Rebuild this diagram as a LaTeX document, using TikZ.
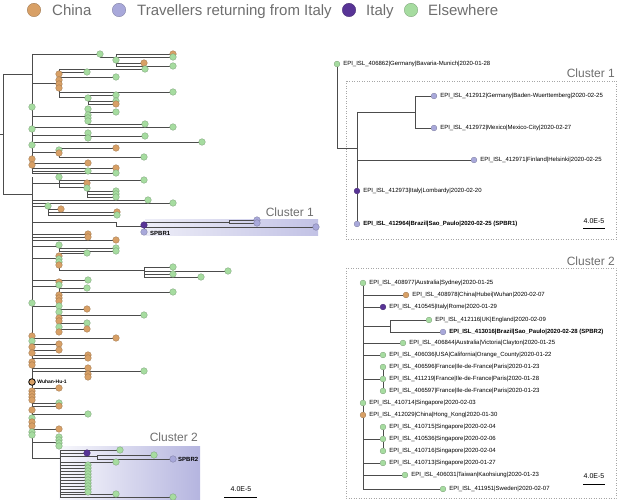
\documentclass[tikz,border=0pt]{standalone}
\usepackage{fontspec}
\setmainfont{Liberation Sans}
\definecolor{china}{RGB}{216,160,102}
\definecolor{trav}{RGB}{168,168,218}
\definecolor{italy}{RGB}{88,52,150}
\definecolor{elsew}{RGB}{166,220,160}
\definecolor{greytext}{RGB}{110,110,110}
\tikzset{
  branch/.style={draw=black!70, line width=0.7pt},
  dot/.style={circle, inner sep=0pt, minimum size=6.6pt, line width=0.3pt},
  tip/.style={dot, fill=#1, draw=#1!70!black},
  small/.style={minimum size=5.8pt},
  lab/.style={font=\fontsize{6}{7}\selectfont, inner sep=1pt, anchor=west, xshift=2pt},
  clusterlab/.style={font=\fontsize{12}{14}\selectfont, text=greytext, inner sep=0pt, anchor=base east},
  legendlab/.style={font=\fontsize{15}{18}\selectfont, text=greytext, inner sep=0pt, anchor=base west},
  scalelab/.style={font=\fontsize{7}{8}\selectfont, inner sep=0pt},
  panel/.style={draw=black!35, dotted, line width=0.5pt},
}
% left tree: tips x0/y/x1/colour
\def\tiplist{32/54/100/elsew, 116/54/173/china, 116/57/173/elsew, 116/60/116/elsew, 116/63/144/china, 116/66/173/elsew,
59/69/145/elsew, 59/72/87/elsew, 59/74/59/china, 59/77/116/elsew, 59/80/59/china, 59/84/59/china, 59/88/59/china, 59/92/173/elsew,
88/95/116/elsew, 88/98/88/elsew, 88/101/116/elsew, 88/104/116/china, 32/107/32/elsew,
88/109/88/elsew, 88/112/116/elsew, 88/115/88/elsew, 88/118/88/elsew, 88/121/88/elsew, 88/124/145/elsew,
32/127/173/elsew, 32/129/32/elsew, 88/133/88/elsew, 88/136/145/elsew, 88/138/88/elsew,
32/142/202/elsew, 32/145/32/elsew, 59/148/116/china, 59/150/59/elsew, 59/153/59/china, 59/157/144/elsew,
32/159/32/china, 32/163/88/china, 32/165/32/china, 32/168/116/china, 32/171/88/elsew, 32/173/116/elsew,
59/177/59/elsew, 59/180/144/elsew, 59/183/87/china, 87/188/87/elsew, 87/191/116/elsew, 87/194/116/elsew, 87/197/116/elsew,
32/200/148/elsew, 32/203/173/elsew, 32/206/48/elsew, 48/209/61/china, 48/212/117/china, 48/215/117/elsew,
229/220/257/trav, 229/223/257/trav, 144/227/316/trav, 144/225/144/italy, 144/232/144/trav,
32/234/88/china, 32/237/88/china, 32/240/116/china, 59/245/59/elsew, 59/248/116/elsew, 59/251/116/elsew,
59/253/87/elsew, 59/256/59/china, 59/259/59/elsew, 59/262/59/elsew, 59/265/59/china,
144/267/173/elsew, 144/271/228/elsew, 144/274/173/elsew, 144/277/201/elsew, 32/280/88/elsew,
59/282/59/china, 59/285/59/elsew, 59/288/87/elsew, 59/292/173/elsew, 59/295/59/china, 59/298/59/china, 59/301/59/china,
32/303/32/elsew, 32/306/59/elsew, 59/309/87/china, 59/312/59/elsew, 59/315/144/elsew, 59/318/59/china, 59/321/59/china,
59/323/87/elsew, 59/327/59/elsew, 59/329/87/china, 59/332/59/china,
32/336/32/china, 32/338/116/china, 32/341/32/elsew, 32/344/59/china, 32/347/32/china, 32/350/59/china, 32/353/32/china,
32/355/88/china, 32/358/88/china, 32/362/32/china, 32/365/32/china, 32/368/88/china, 88/371/144/elsew, 88/374/88/china, 88/377/88/china,
32/388/59/china, 32/391/32/china, 32/394/32/china, 32/397/32/china, 32/400/32/china, 32/403/59/elsew, 32/406/59/china,
32/410/32/china, 32/414/88/elsew, 32/418/32/elsew, 32/422/32/china, 32/426/32/china, 32/429/59/china, 32/432/32/elsew, 32/435/32/elsew,
59/437/59/elsew, 59/440/59/elsew, 59/443/59/elsew, 59/446/59/elsew,
60/450/120/elsew, 60/453/87/italy, 97/455/154/elsew, 97/459/173/trav, 60/462/116/elsew,
60/465/88/elsew, 60/468/88/elsew, 60/471/88/elsew, 60/474/88/elsew, 60/477/88/elsew, 60/480/88/elsew,
60/483/88/elsew, 60/486/88/elsew, 60/489/88/elsew, 60/492/88/elsew, 60/494/116/elsew, 60/497/173/elsew}
\begin{document}
\begin{tikzpicture}[x=1pt, y=-1pt]
  \useasboundingbox (0,0) rectangle (618,500);

  % legend
  \node[tip=china, minimum size=13.5pt] (kchina) at (34,10) {};
  \node[legendlab] at (52,15.5) {China};
  \node[tip=trav, minimum size=13.5pt] (ktrav) at (119,10) {};
  \node[legendlab] at (137,15.5) {Travellers returning from Italy};
  \node[tip=italy, minimum size=13.5pt] (kitaly) at (349,10) {};
  \node[legendlab] at (366,15.5) {Italy};
  \node[tip=elsew, minimum size=13.5pt] (kelse) at (411,10) {};
  \node[legendlab] at (428,15.5) {Elsewhere};

  % highlighted clusters
  \shade[left color=trav!20, right color=trav!70] (145,219) rectangle (318,235);
  \shade[left color=trav!8, right color=trav!85] (59,446) rectangle (200,500);
  \node[clusterlab] (clone) at (314,216) {Cluster 1};
  \node[clusterlab] (cltwo) at (198,441) {Cluster 2};

  % full tree
  \foreach \xa/\ya/\xb in {0/134/3, 3/74/32, 3/194/32, 100/57/116, 32/83/59, 59/97/88, 32/116/88, 32/135/88, 32/152/59,
      32/183/59, 59/187/87, 32/222/116, 116/226/144, 144/222/229, 32/246/59, 32/258/59, 59/270/144, 32/286/59,
      32/371/88, 32/442/59, 32/458/60, 60/456/97}
    \draw[branch] (\xa,\ya) -- (\xb,\ya);
  \foreach \xa/\ya/\yb in {3/74/194, 32/54/173, 32/177/458, 100/54/57, 116/54/66, 59/69/97, 88/95/104, 88/109/124,
      88/133/138, 59/148/157, 59/177/187, 87/187/197, 48/206/215, 116/222/226, 144/222/232, 229/220/223, 59/244/251,
      59/253/270, 144/267/277, 59/282/301, 59/306/332, 88/368/377, 59/437/446, 60/450/497, 97/455/459}
    \draw[branch] (\xa,\ya) -- (\xa,\yb);
  \foreach \xa/\ya/\xb/\cl in \tiplist
    \draw[branch] (\xa,\ya) -- (\xb,\ya);
  \foreach \xa/\ya/\xb/\cl in \tiplist
    \node[tip=\cl] at (\xb,\ya) {};

  \node[tip=china, draw=black, line width=0.8pt] (wuhan) at (32,382) {};
  \node[font=\bfseries\fontsize{5}{6}\selectfont, anchor=west, inner sep=0.5pt, xshift=1pt] at (wuhan.east) {Wuhan-Hu-1};
  \node[font=\bfseries\fontsize{6}{7}\selectfont, anchor=west, inner sep=0pt] (spbrone) at (150,233) {SPBR1};
  \node[font=\bfseries\fontsize{6}{7}\selectfont, anchor=west, inner sep=0pt] (spbrtwo) at (178,459) {SPBR2};

  \node[scalelab] (scl) at (241,489) {4.0E-5};
  \draw[line width=0.9pt] (224,497) -- (257,497);

  % cluster 1
  \draw[panel] (346,81) rectangle (616,239);
  \node[clusterlab] at (615,78) {Cluster 1};
  \node[tip=elsew, small] (ga) at (337,64) {};
  \node[lab] at (ga.east) {EPI\_ISL\_406862|Germany|Bavaria-Munich|2020-01-28};
  \node[tip=trav, small] (gb) at (434,96) {};
  \node[lab] at (gb.east) {EPI\_ISL\_412912|Germany|Baden-Wuerttemberg|2020-02-25};
  \node[tip=trav, small] (gc) at (434,128) {};
  \node[lab] at (gc.east) {EPI\_ISL\_412972|Mexico|Mexico-City|2020-02-27};
  \node[tip=trav, small] (gd) at (474,160) {};
  \node[lab] at (gd.east) {EPI\_ISL\_412971|Finland|Helsinki|2020-02-25};
  \node[tip=italy, small] (ge) at (357,191) {};
  \node[lab] at (ge.east) {EPI\_ISL\_412973|Italy|Lombardy|2020-02-20};
  \node[tip=trav, small] (gf) at (357,224) {};
  \node[lab, font=\bfseries\fontsize{6}{7}\selectfont] at (gf.east) {EPI\_ISL\_412964|Brazil|Sao\_Paulo|2020-02-25 (SPBR1)};
  \draw[branch] (ga) -- (337,148) -- (357,148);
  \draw[branch] (357,112) -- (ge) -- (gf);
  \draw[branch] (357,112) -- (415,112);
  \draw[branch] (gb) -- (415,96) -- (415,128) -- (gc);
  \draw[branch] (357,160) -- (gd);
  \node[scalelab] at (594,221) {4.0E-5};
  \draw[line width=0.9pt] (583,228) -- (605,228);

  % cluster 2
  \draw[panel] (346,268) rectangle (616,498);
  \node[clusterlab] at (615,265) {Cluster 2};
  \node[tip=elsew, small] (ha) at (363,283) {};
  \node[lab] at (ha.east) {EPI\_ISL\_408977|Australia|Sydney|2020-01-25};
  \node[tip=china, small] (hb) at (406,295) {};
  \node[lab] at (hb.east) {EPI\_ISL\_408978|China|Hubei|Wuhan|2020-02-07};
  \node[tip=italy, small] (hc) at (383,307) {};
  \node[lab] at (hc.east) {EPI\_ISL\_410545|Italy|Rome|2020-01-29};
  \node[tip=elsew, small] (hd) at (429,320) {};
  \node[lab] at (hd.east) {EPI\_ISL\_412116|UK|England|2020-02-09};
  \node[tip=trav, small] (he) at (443,332) {};
  \node[lab, font=\bfseries\fontsize{6}{7}\selectfont] at (he.east) {EPI\_ISL\_413016|Brazil|Sao\_Paulo|2020-02-28 (SPBR2)};
  \node[tip=elsew, small] (hf) at (403,343) {};
  \node[lab] at (hf.east) {EPI\_ISL\_406844|Australia|Victoria|Clayton|2020-01-25};
  \node[tip=elsew, small] (hg) at (383,355) {};
  \node[lab] at (hg.east) {EPI\_ISL\_406036|USA|California|Orange\_County|2020-01-22};
  \node[tip=elsew, small] (hh) at (383,367) {};
  \node[lab] at (hh.east) {EPI\_ISL\_406596|France|Ile-de-France|Paris|2020-01-23};
  \node[tip=elsew, small] (hi) at (383,379) {};
  \node[lab] at (hi.east) {EPI\_ISL\_411219|France|Ile-de-France|Paris|2020-01-28};
  \node[tip=elsew, small] (hj) at (383,391) {};
  \node[lab] at (hj.east) {EPI\_ISL\_406597|France|Ile-de-France|Paris|2020-01-23};
  \node[tip=elsew, small] (hk) at (363,403) {};
  \node[lab] at (hk.east) {EPI\_ISL\_410714|Singapore|2020-02-03};
  \node[tip=china, small] (hl) at (363,415) {};
  \node[lab] at (hl.east) {EPI\_ISL\_412029|China|Hong\_Kong|2020-01-30};
  \node[tip=elsew, small] (hm) at (383,427) {};
  \node[lab] at (hm.east) {EPI\_ISL\_410715|Singapore|2020-02-04};
  \node[tip=elsew, small] (hn) at (383,439) {};
  \node[lab] at (hn.east) {EPI\_ISL\_410536|Singapore|2020-02-06};
  \node[tip=elsew, small] (ho) at (383,451) {};
  \node[lab] at (ho.east) {EPI\_ISL\_410716|Singapore|2020-02-04};
  \node[tip=elsew, small] (hp) at (383,463) {};
  \node[lab] at (hp.east) {EPI\_ISL\_410713|Singapore|2020-01-27};
  \node[tip=elsew, small] (hq) at (405,475) {};
  \node[lab] at (hq.east) {EPI\_ISL\_406031|Taiwan|Kaohsiung|2020-01-23};
  \node[tip=elsew, small] (hr) at (443,489) {};
  \node[lab] at (hr.east) {EPI\_ISL\_411951|Sweden|2020-02-07};
  \draw[branch] (ha) -- (hk) -- (hl) -- (363,489) -- (hr);
  \draw[branch] (363,295) -- (hb);
  \draw[branch] (363,307) -- (hc);
  \draw[branch] (363,326) -- (390,326);
  \draw[branch] (hd) -- (390,320) -- (390,332) -- (he);
  \draw[branch] (363,343) -- (hf);
  \draw[branch] (363,355) -- (hg);
  \draw[branch] (363,379) -- (hi) (hh) -- (hi) -- (hj);
  \draw[branch] (363,439) -- (hn) (hm) -- (hn) -- (ho);
  \draw[branch] (363,463) -- (hp);
  \draw[branch] (363,475) -- (hq);
  \node[scalelab] at (594,476) {4.0E-5};
  \draw[line width=0.9pt] (583,484) -- (605,484);
\end{tikzpicture}
\end{document}
